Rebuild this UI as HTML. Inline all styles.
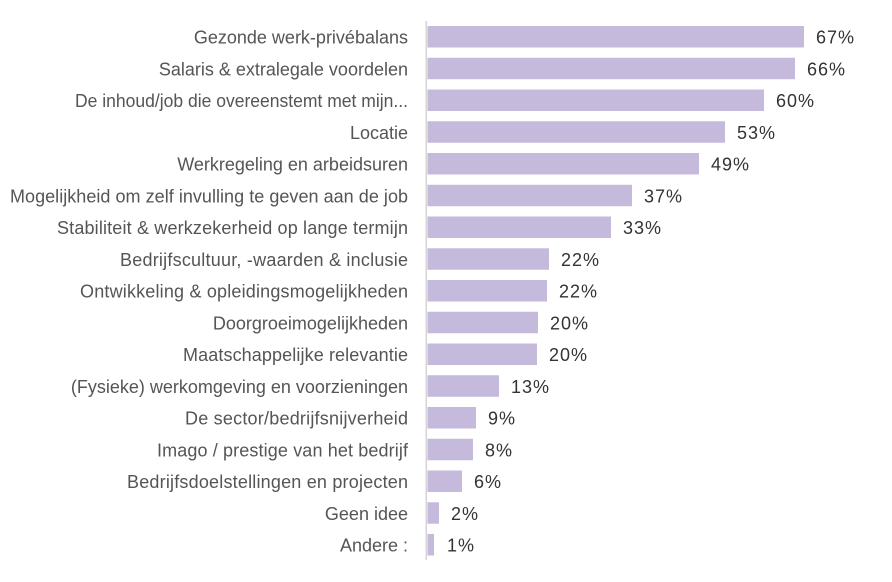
<!DOCTYPE html>
<html>
<head>
<meta charset="utf-8">
<style>
  html,body{margin:0;padding:0;background:#fff;}
  svg{display:block;}
  .cat{font-family:"Liberation Sans",sans-serif;font-size:18px;fill:#555;text-anchor:end;}
  .val{font-family:"Liberation Sans",sans-serif;font-size:18px;fill:#333;letter-spacing:1px;}
</style>
</head>
<body>
<svg width="892" height="582" viewBox="0 0 892 582" xmlns="http://www.w3.org/2000/svg">
  <rect x="0" y="0" width="892" height="582" fill="#fff"/>
  <g fill="#c5badb">
    <rect x="427.5" y="26" width="376.5" height="21.5"/>
    <rect x="427.5" y="57.75" width="367.5" height="21.5"/>
    <rect x="427.5" y="89.5" width="336.5" height="21.5"/>
    <rect x="427.5" y="121.25" width="297.5" height="21.5"/>
    <rect x="427.5" y="153" width="271.5" height="21.5"/>
    <rect x="427.5" y="184.75" width="204.5" height="21.5"/>
    <rect x="427.5" y="216.5" width="183.5" height="21.5"/>
    <rect x="427.5" y="248.25" width="121.5" height="21.5"/>
    <rect x="427.5" y="280" width="119.5" height="21.5"/>
    <rect x="427.5" y="311.75" width="110.5" height="21.5"/>
    <rect x="427.5" y="343.5" width="109.5" height="21.5"/>
    <rect x="427.5" y="375.25" width="71.5" height="21.5"/>
    <rect x="427.5" y="407" width="48.5" height="21.5"/>
    <rect x="427.5" y="438.75" width="45.5" height="21.5"/>
    <rect x="427.5" y="470.5" width="34.5" height="21.5"/>
    <rect x="427.5" y="502.25" width="11.5" height="21.5"/>
    <rect x="427.5" y="534" width="6.5" height="21.5"/>
  </g>
  <rect x="425.5" y="21" width="1.6" height="539" fill="#d6d6d6"/>
  <g class="cat">
    <text x="408" y="43.5">Gezonde werk-privébalans</text>
    <text x="408" y="75.25">Salaris &amp; extralegale voordelen</text>
    <text x="408" y="107" textLength="333" lengthAdjust="spacingAndGlyphs">De inhoud/job die overeenstemt met mijn...</text>
    <text x="408" y="138.75">Locatie</text>
    <text x="408" y="170.5">Werkregeling en arbeidsuren</text>
    <text x="408" y="202.25" textLength="398" lengthAdjust="spacing">Mogelijkheid om zelf invulling te geven aan de job</text>
    <text x="408" y="234" textLength="351" lengthAdjust="spacing">Stabiliteit &amp; werkzekerheid op lange termijn</text>
    <text x="408" y="265.75" textLength="288" lengthAdjust="spacing">Bedrijfscultuur, -waarden &amp; inclusie</text>
    <text x="408" y="297.5" textLength="328" lengthAdjust="spacing">Ontwikkeling &amp; opleidingsmogelijkheden</text>
    <text x="408" y="329.25">Doorgroeimogelijkheden</text>
    <text x="408" y="361" textLength="225" lengthAdjust="spacing">Maatschappelijke relevantie</text>
    <text x="408" y="392.75">(Fysieke) werkomgeving en voorzieningen</text>
    <text x="408" y="424.5" textLength="223" lengthAdjust="spacing">De sector/bedrijfsnijverheid</text>
    <text x="408" y="456.25" textLength="251" lengthAdjust="spacing">Imago / prestige van het bedrijf</text>
    <text x="408" y="488" textLength="281" lengthAdjust="spacing">Bedrijfsdoelstellingen en projecten</text>
    <text x="408" y="519.75">Geen idee</text>
    <text x="408" y="551.5">Andere :</text>
  </g>
  <g class="val">
    <text x="816" y="43.5">67%</text>
    <text x="807" y="75.25">66%</text>
    <text x="776" y="107">60%</text>
    <text x="737" y="138.75">53%</text>
    <text x="711" y="170.5">49%</text>
    <text x="644" y="202.25">37%</text>
    <text x="623" y="234">33%</text>
    <text x="561" y="265.75">22%</text>
    <text x="559" y="297.5">22%</text>
    <text x="550" y="329.25">20%</text>
    <text x="549" y="361">20%</text>
    <text x="511" y="392.75">13%</text>
    <text x="488" y="424.5">9%</text>
    <text x="485" y="456.25">8%</text>
    <text x="474" y="488">6%</text>
    <text x="451" y="519.75">2%</text>
    <text x="447" y="551.5">1%</text>
  </g>
</svg>
</body>
</html>
